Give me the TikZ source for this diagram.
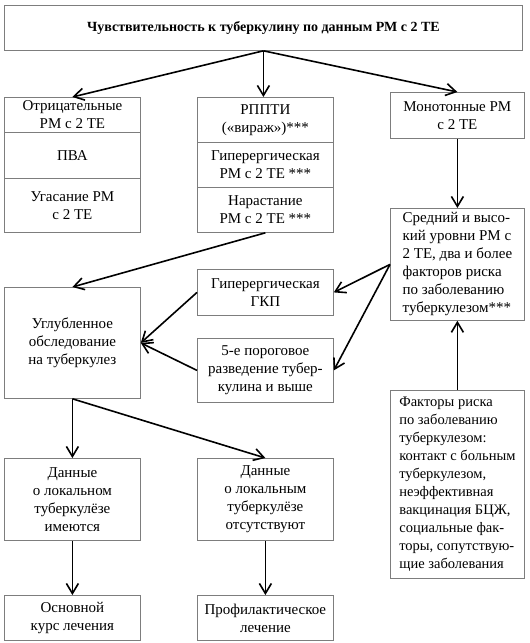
\documentclass[tikz,border=0pt]{standalone}
\usepackage{fontspec}
\setmainfont{LiberationSerif}[Extension=.ttf, UprightFont=*-Regular, BoldFont=*-Bold]
\newfontfamily\boxfont{LiberationSerif}[Extension=.ttf, UprightFont=*-Regular, BoldFont=*-Bold]
\usetikzlibrary{arrows.meta}
\definecolor{boxgray}{RGB}{125,125,125}
\begin{document}
\begin{tikzpicture}[x=1pt,y=-1pt,
  box/.style={draw=boxgray, line width=0.8pt, inner sep=0pt, anchor=north west,
    align=center, font=\boxfont\fontsize{15}{18}\selectfont},
  lbox/.style={box, align=left},
  arr/.style={-{Straight Barb[length=10pt,width=12pt]}, line width=1.6pt}]
\useasboundingbox[fill=white] (0,0) rectangle (530,643);

\node[box, minimum width=518pt, minimum height=45pt, font=\boxfont\fontsize{14}{17}\selectfont\bfseries] (title) at (4,5)
  {Чувствительность к туберкулину по данным РМ с 2 ТЕ};

\node[box, minimum width=136pt, minimum height=35pt] (lc1) at (4,97) {Отрицательные\\РМ с 2 ТЕ};
\node[box, minimum width=136pt, minimum height=46pt] (lc2) at (4,132) {ПВА};
\node[box, minimum width=136pt, minimum height=54pt] (lc3) at (4,178) {Угасание РМ\\с 2 ТЕ};

\node[box, minimum width=136pt, minimum height=45pt] (mc1) at (197,97) {РППТИ\\(«вираж»)***};
\node[box, minimum width=136pt, minimum height=45pt] (mc2) at (197,142) {Гиперергическая\\РМ с 2 ТЕ ***};
\node[box, minimum width=136pt, minimum height=45pt] (mc3) at (197,187) {Нарастание\\РМ с 2 ТЕ ***};

\node[box, minimum width=134pt, minimum height=46pt] (mono) at (390,92) {Монотонные РМ\\с 2 ТЕ};
\node[lbox, minimum width=134pt, minimum height=112pt] (sred) at (390,208)
  {Средний и высо-\\кий уровни РМ с\\2 ТЕ, два и более\\факторов риска\\по заболеванию\\туберкулезом***};

\node[box, minimum width=136pt, minimum height=111pt] (ugl) at (4,287) {Углубленное\\обследование\\на туберкулез};
\node[box, minimum width=136pt, minimum height=46pt] (gkp) at (197,269) {Гиперергическая\\ГКП};
\node[box, minimum width=136pt, minimum height=64pt] (por) at (197,338) {5-е пороговое\\разведение тубер-\\кулина и выше};

\node[box, minimum width=136pt, minimum height=82pt] (dan1) at (4,458) {Данные\\о локальном\\туберкулёзе\\имеются};
\node[box, minimum width=136pt, minimum height=82pt] (dan2) at (197,458) {Данные\\о локальным\\туберкулёзе\\отсутствуют};

\node[box, minimum width=136pt, minimum height=45pt] (osn) at (4,595) {Основной\\курс лечения};
\node[box, minimum width=136pt, minimum height=45pt] (prof) at (197,595) {Профилактическое\\лечение};

\node[lbox, minimum width=134pt, minimum height=188pt, font=\boxfont\fontsize{14.5}{18}\selectfont] (fakt) at (390,390)
  {Факторы риска\\по заболеванию\\туберкулезом:\\контакт с больным\\туберкулезом,\\неэффективная\\вакцинация БЦЖ,\\социальные фак-\\торы, сопутствую-\\щие заболевания};

\draw[arr] (title.south) -- (lc1.north);
\draw[arr] (title.south) -- (title.south |- mc1.north);
\draw[arr] (title.south) -- (mono.north);
\draw[arr] (mono.south) -- (sred.north);
\draw[arr] (mc3.south) -- (ugl.north);
\draw[arr] (sred.west) -- (gkp.east);
\draw[arr] (sred.west) -- (por.east);
\draw[arr] (gkp.west) -- (ugl.east);
\draw[arr] (por.west) -- (ugl.east);
\draw[arr] (ugl.south) -- (dan1.north);
\draw[arr] (ugl.south) -- (dan2.north);
\draw[arr] (dan1.south) -- (osn.north);
\draw[arr] (dan2.south) -- (prof.north);
\draw[arr] (fakt.north) -- (sred.south);
\end{tikzpicture}
\end{document}
